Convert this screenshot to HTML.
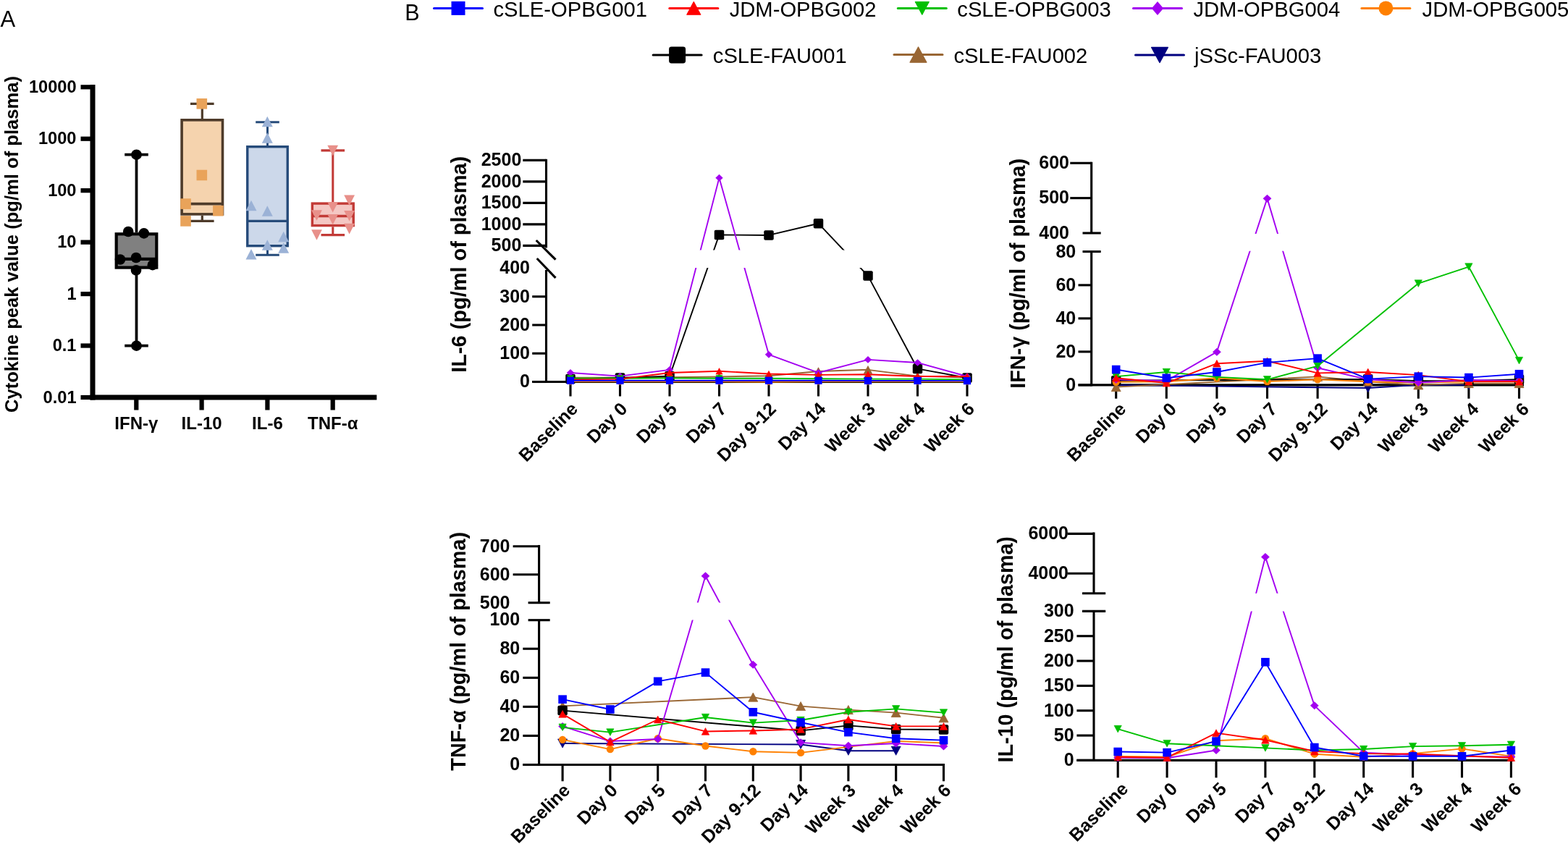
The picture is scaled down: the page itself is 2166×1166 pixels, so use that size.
<!DOCTYPE html>
<html><head><meta charset="utf-8"><title>Cytokine figure</title>
<style>
html,body{margin:0;padding:0;background:#fff;}
svg{display:block;}
text{font-family:"Liberation Sans", Arial, Helvetica, sans-serif;}
</style></head>
<body>
<svg width="2166" height="1166" viewBox="0 0 2166 1166">
<rect width="2166" height="1166" fill="#fff"/>
<text x="0.5" y="37" font-size="31" font-weight="normal" text-anchor="start" fill="#000" >A</text>
<line x1="128" y1="117" x2="128" y2="552.5" stroke="#000" stroke-width="7" stroke-linecap="butt" />
<line x1="124.5" y1="549" x2="520.4" y2="549" stroke="#000" stroke-width="7" stroke-linecap="butt" />
<line x1="111.5" y1="120.3" x2="128" y2="120.3" stroke="#000" stroke-width="6.2" stroke-linecap="butt" />
<text x="105.5" y="127.8" font-size="23.6" font-weight="bold" text-anchor="end" fill="#000" >10000</text>
<line x1="111.5" y1="191.75" x2="128" y2="191.75" stroke="#000" stroke-width="6.2" stroke-linecap="butt" />
<text x="105.5" y="199.25" font-size="23.6" font-weight="bold" text-anchor="end" fill="#000" >1000</text>
<line x1="111.5" y1="263.2" x2="128" y2="263.2" stroke="#000" stroke-width="6.2" stroke-linecap="butt" />
<text x="105.5" y="270.7" font-size="23.6" font-weight="bold" text-anchor="end" fill="#000" >100</text>
<line x1="111.5" y1="334.65" x2="128" y2="334.65" stroke="#000" stroke-width="6.2" stroke-linecap="butt" />
<text x="105.5" y="342.15" font-size="23.6" font-weight="bold" text-anchor="end" fill="#000" >10</text>
<line x1="111.5" y1="406.1" x2="128" y2="406.1" stroke="#000" stroke-width="6.2" stroke-linecap="butt" />
<text x="105.5" y="413.6" font-size="23.6" font-weight="bold" text-anchor="end" fill="#000" >1</text>
<line x1="111.5" y1="477.55" x2="128" y2="477.55" stroke="#000" stroke-width="6.2" stroke-linecap="butt" />
<text x="105.5" y="485.05" font-size="23.6" font-weight="bold" text-anchor="end" fill="#000" >0.1</text>
<line x1="111.5" y1="549" x2="128" y2="549" stroke="#000" stroke-width="6.2" stroke-linecap="butt" />
<text x="105.5" y="556.5" font-size="23.6" font-weight="bold" text-anchor="end" fill="#000" >0.01</text>
<line x1="188.3" y1="549" x2="188.3" y2="566.5" stroke="#000" stroke-width="6.2" stroke-linecap="butt" />
<line x1="278.6" y1="549" x2="278.6" y2="566.5" stroke="#000" stroke-width="6.2" stroke-linecap="butt" />
<line x1="369.4" y1="549" x2="369.4" y2="566.5" stroke="#000" stroke-width="6.2" stroke-linecap="butt" />
<line x1="459.7" y1="549" x2="459.7" y2="566.5" stroke="#000" stroke-width="6.2" stroke-linecap="butt" />
<text x="188.3" y="592.7" font-size="24" font-weight="bold" text-anchor="middle" fill="#000" >IFN-γ</text>
<text x="278.6" y="592.7" font-size="24" font-weight="bold" text-anchor="middle" fill="#000" >IL-10</text>
<text x="369.4" y="592.7" font-size="24" font-weight="bold" text-anchor="middle" fill="#000" >IL-6</text>
<text x="459.7" y="592.7" font-size="24" font-weight="bold" text-anchor="middle" fill="#000" >TNF-α</text>
<text x="0" y="0" font-size="25.6" font-weight="bold" text-anchor="middle" fill="#000" transform="translate(25.3,337.5) rotate(-90)" >Cytokine peak value (pg/ml of plasma)</text>
<line x1="188.5" y1="213.7" x2="188.5" y2="321.2" stroke="#000" stroke-width="3.78" stroke-linecap="butt" />
<line x1="188.5" y1="371.7" x2="188.5" y2="477.7" stroke="#000" stroke-width="3.78" stroke-linecap="butt" />
<line x1="172.2" y1="213.7" x2="204.8" y2="213.7" stroke="#000" stroke-width="3.78" stroke-linecap="butt" />
<line x1="172.2" y1="477.7" x2="204.8" y2="477.7" stroke="#000" stroke-width="3.78" stroke-linecap="butt" />
<rect x="160.7" y="323.3" width="55.6" height="46.3" fill="#808080" stroke="#000" stroke-width="4.2"/>
<line x1="160.7" y1="357.8" x2="216.3" y2="357.8" stroke="#000" stroke-width="4.2" stroke-linecap="butt" />
<circle cx="177.2" cy="320" r="7.3" fill="#000"/>
<circle cx="198.8" cy="322.4" r="7.3" fill="#000"/>
<circle cx="166" cy="358.5" r="7.3" fill="#000"/>
<circle cx="188" cy="356" r="7.3" fill="#000"/>
<circle cx="210.8" cy="366.2" r="7.3" fill="#000"/>
<circle cx="188" cy="373.4" r="7.3" fill="#000"/>
<circle cx="188.5" cy="213.7" r="7.3" fill="#000"/>
<circle cx="188.5" cy="477.7" r="7.3" fill="#000"/>
<line x1="279.3" y1="143.3" x2="279.3" y2="164" stroke="#4E3B2A" stroke-width="3.24" stroke-linecap="butt" />
<line x1="279.3" y1="297.7" x2="279.3" y2="305.4" stroke="#4E3B2A" stroke-width="3.24" stroke-linecap="butt" />
<line x1="263" y1="143.3" x2="295.6" y2="143.3" stroke="#4E3B2A" stroke-width="3.24" stroke-linecap="butt" />
<line x1="263" y1="305.4" x2="295.6" y2="305.4" stroke="#4E3B2A" stroke-width="3.24" stroke-linecap="butt" />
<rect x="251.1" y="165.8" width="56.4" height="130.1" fill="#F5D3AE" stroke="#4E3B2A" stroke-width="3.6"/>
<line x1="251.1" y1="281.6" x2="307.5" y2="281.6" stroke="#4E3B2A" stroke-width="3.6" stroke-linecap="butt" />
<rect x="271.5" y="136" width="14.6" height="14.6" fill="#E9A35A"/>
<rect x="271.5" y="234.7" width="14.6" height="14.6" fill="#E9A35A"/>
<rect x="249.2" y="274.3" width="14.6" height="14.6" fill="#E9A35A"/>
<rect x="294.1" y="283.9" width="14.6" height="14.6" fill="#E9A35A"/>
<rect x="249.2" y="298.1" width="14.6" height="14.6" fill="#E9A35A"/>
<line x1="369.5" y1="168.8" x2="369.5" y2="201" stroke="#264B7A" stroke-width="3.06" stroke-linecap="butt" />
<line x1="369.5" y1="341.4" x2="369.5" y2="352.2" stroke="#264B7A" stroke-width="3.06" stroke-linecap="butt" />
<line x1="353.2" y1="168.8" x2="385.8" y2="168.8" stroke="#264B7A" stroke-width="3.06" stroke-linecap="butt" />
<line x1="353.2" y1="352.2" x2="385.8" y2="352.2" stroke="#264B7A" stroke-width="3.06" stroke-linecap="butt" />
<rect x="341.75" y="202.7" width="55.5" height="137" fill="#CCD8EA" stroke="#264B7A" stroke-width="3.4"/>
<line x1="341.75" y1="305.4" x2="397.25" y2="305.4" stroke="#264B7A" stroke-width="3.4" stroke-linecap="butt" />
<polygon points="369.3,160.77 376.8,175.32 361.8,175.32" fill="#9BB2D6" />
<polygon points="369.3,183.27 376.8,197.82 361.8,197.82" fill="#9BB2D6" />
<polygon points="347,276.77 354.5,291.32 339.5,291.32" fill="#9BB2D6" />
<polygon points="369.3,284.27 376.8,298.82 361.8,298.82" fill="#9BB2D6" />
<polygon points="391.7,319.77 399.2,334.32 384.2,334.32" fill="#9BB2D6" />
<polygon points="369.3,331.27 376.8,345.82 361.8,345.82" fill="#9BB2D6" />
<polygon points="391.7,335.27 399.2,349.82 384.2,349.82" fill="#9BB2D6" />
<polygon points="347,343.97 354.5,358.52 339.5,358.52" fill="#9BB2D6" />
<line x1="459.8" y1="207.9" x2="459.8" y2="279.4" stroke="#C23A36" stroke-width="3.06" stroke-linecap="butt" />
<line x1="459.8" y1="313.3" x2="459.8" y2="324.6" stroke="#C23A36" stroke-width="3.06" stroke-linecap="butt" />
<line x1="443.5" y1="207.9" x2="476.1" y2="207.9" stroke="#C23A36" stroke-width="3.06" stroke-linecap="butt" />
<line x1="443.5" y1="324.6" x2="476.1" y2="324.6" stroke="#C23A36" stroke-width="3.06" stroke-linecap="butt" />
<rect x="431.35" y="281.1" width="56.9" height="30.5" fill="#F4C7C3" stroke="#C23A36" stroke-width="3.4"/>
<line x1="431.35" y1="298.5" x2="488.25" y2="298.5" stroke="#C23A36" stroke-width="3.4" stroke-linecap="butt" />
<polygon points="452.3,200.7 467.1,200.7 459.7,215.3" fill="#E8908A"/>
<polygon points="475.2,269.5 490,269.5 482.6,284.1" fill="#E8908A"/>
<polygon points="452.3,279 467.1,279 459.7,293.6" fill="#E8908A"/>
<polygon points="430.1,290.2 444.9,290.2 437.5,304.8" fill="#E8908A"/>
<polygon points="475.2,291 490,291 482.6,305.6" fill="#E8908A"/>
<polygon points="452.3,296 467.1,296 459.7,310.6" fill="#E8908A"/>
<polygon points="475.2,308.8 490,308.8 482.6,323.4" fill="#E8908A"/>
<polygon points="430.1,317.2 444.9,317.2 437.5,331.8" fill="#E8908A"/>
<text x="559.3" y="27.9" font-size="30.5" font-weight="normal" text-anchor="start" fill="#000" >B</text>
<line x1="599.5" y1="11.4" x2="666.5" y2="11.4" stroke="#0000FF" stroke-width="3" stroke-linecap="round" />
<rect x="623.5" y="1.9" width="19" height="19" fill="#0000FF"/>
<text x="681.5" y="23.2" font-size="29.2" font-weight="normal" text-anchor="start" fill="#000" >cSLE-OPBG001</text>
<line x1="924.8" y1="11.4" x2="991.8" y2="11.4" stroke="#FF0000" stroke-width="3" stroke-linecap="round" />
<polygon points="958.3,2.56 967.8,20.23 948.8,20.23" fill="#FF0000" stroke="#FF0000" stroke-width="1.14" stroke-linejoin="round"/>
<text x="1007.7" y="23.2" font-size="29.2" font-weight="normal" text-anchor="start" fill="#000" >JDM-OPBG002</text>
<line x1="1240.3" y1="11.4" x2="1307.3" y2="11.4" stroke="#00C000" stroke-width="3" stroke-linecap="round" />
<polygon points="1273.8,20.23 1283.3,2.56 1264.3,2.56" fill="#00C000" stroke="#00C000" stroke-width="1.14" stroke-linejoin="round"/>
<text x="1322.3" y="23.2" font-size="29.2" font-weight="normal" text-anchor="start" fill="#000" >cSLE-OPBG003</text>
<line x1="1565.5" y1="11.4" x2="1632.5" y2="11.4" stroke="#A300F0" stroke-width="3" stroke-linecap="round" />
<polygon points="1599,1.9 1607.17,11.4 1599,20.9 1590.83,11.4" fill="#A300F0"/>
<text x="1648.4" y="23.2" font-size="29.2" font-weight="normal" text-anchor="start" fill="#000" >JDM-OPBG004</text>
<line x1="1880.9" y1="11.4" x2="1947.9" y2="11.4" stroke="#FF8000" stroke-width="3" stroke-linecap="round" />
<circle cx="1914.4" cy="11.4" r="10" fill="#FF8000"/>
<text x="1964.6" y="23.2" font-size="29.2" font-weight="normal" text-anchor="start" fill="#000" >JDM-OPBG005</text>
<line x1="902.1" y1="75.9" x2="969.1" y2="75.9" stroke="#000000" stroke-width="3" stroke-linecap="round" />
<rect x="924.1" y="64.4" width="23" height="23" rx="3.45" fill="#000000"/>
<text x="984.8" y="86.9" font-size="29.2" font-weight="normal" text-anchor="start" fill="#000" >cSLE-FAU001</text>
<line x1="1235" y1="75.6" x2="1302" y2="75.6" stroke="#996633" stroke-width="3" stroke-linecap="round" />
<polygon points="1268.5,65.04 1279.85,86.16 1257.15,86.16" fill="#996633" stroke="#996633" stroke-width="1.36" stroke-linejoin="round"/>
<text x="1317.4" y="86.9" font-size="29.2" font-weight="normal" text-anchor="start" fill="#000" >cSLE-FAU002</text>
<line x1="1568.5" y1="75.9" x2="1635.5" y2="75.9" stroke="#000080" stroke-width="3" stroke-linecap="round" />
<polygon points="1602,86.46 1613.35,65.34 1590.65,65.34" fill="#000080" stroke="#000080" stroke-width="1.36" stroke-linejoin="round"/>
<text x="1650.1" y="86.9" font-size="29.2" font-weight="normal" text-anchor="start" fill="#000" >jSSc-FAU003</text>
<line x1="754.5" y1="373" x2="754.5" y2="529.05" stroke="#000" stroke-width="3.1" stroke-linecap="butt" />
<line x1="754.5" y1="219.85" x2="754.5" y2="342.4" stroke="#000" stroke-width="3.1" stroke-linecap="butt" />
<line x1="735.2" y1="527.5" x2="1340.6" y2="527.5" stroke="#000" stroke-width="3.1" stroke-linecap="butt" />
<line x1="788" y1="527.5" x2="788" y2="547.5" stroke="#000" stroke-width="3.1" stroke-linecap="butt" />
<line x1="856.5" y1="527.5" x2="856.5" y2="547.5" stroke="#000" stroke-width="3.1" stroke-linecap="butt" />
<line x1="925" y1="527.5" x2="925" y2="547.5" stroke="#000" stroke-width="3.1" stroke-linecap="butt" />
<line x1="993.5" y1="527.5" x2="993.5" y2="547.5" stroke="#000" stroke-width="3.1" stroke-linecap="butt" />
<line x1="1062" y1="527.5" x2="1062" y2="547.5" stroke="#000" stroke-width="3.1" stroke-linecap="butt" />
<line x1="1130.5" y1="527.5" x2="1130.5" y2="547.5" stroke="#000" stroke-width="3.1" stroke-linecap="butt" />
<line x1="1199" y1="527.5" x2="1199" y2="547.5" stroke="#000" stroke-width="3.1" stroke-linecap="butt" />
<line x1="1267.5" y1="527.5" x2="1267.5" y2="547.5" stroke="#000" stroke-width="3.1" stroke-linecap="butt" />
<line x1="1336" y1="527.5" x2="1336" y2="547.5" stroke="#000" stroke-width="3.1" stroke-linecap="butt" />
<line x1="722.3" y1="221.4" x2="754.5" y2="221.4" stroke="#000" stroke-width="3.1" stroke-linecap="butt" />
<text x="720.3" y="229.2" font-size="25" font-weight="bold" text-anchor="end" fill="#000" >2500</text>
<line x1="722.3" y1="250.9" x2="754.5" y2="250.9" stroke="#000" stroke-width="3.1" stroke-linecap="butt" />
<text x="720.3" y="258.7" font-size="25" font-weight="bold" text-anchor="end" fill="#000" >2000</text>
<line x1="722.3" y1="280.4" x2="754.5" y2="280.4" stroke="#000" stroke-width="3.1" stroke-linecap="butt" />
<text x="720.3" y="288.2" font-size="25" font-weight="bold" text-anchor="end" fill="#000" >1500</text>
<line x1="722.3" y1="309.9" x2="754.5" y2="309.9" stroke="#000" stroke-width="3.1" stroke-linecap="butt" />
<text x="720.3" y="317.7" font-size="25" font-weight="bold" text-anchor="end" fill="#000" >1000</text>
<line x1="722.3" y1="339.4" x2="754.5" y2="339.4" stroke="#000" stroke-width="3.1" stroke-linecap="butt" />
<text x="720.3" y="347.2" font-size="25" font-weight="bold" text-anchor="end" fill="#000" >500</text>
<text x="732" y="378.3" font-size="25" font-weight="bold" text-anchor="end" fill="#000" >400</text>
<line x1="735.2" y1="409.75" x2="754.5" y2="409.75" stroke="#000" stroke-width="3.1" stroke-linecap="butt" />
<text x="732" y="417.55" font-size="25" font-weight="bold" text-anchor="end" fill="#000" >300</text>
<line x1="735.2" y1="449" x2="754.5" y2="449" stroke="#000" stroke-width="3.1" stroke-linecap="butt" />
<text x="732" y="456.8" font-size="25" font-weight="bold" text-anchor="end" fill="#000" >200</text>
<line x1="735.2" y1="488.25" x2="754.5" y2="488.25" stroke="#000" stroke-width="3.1" stroke-linecap="butt" />
<text x="732" y="496.05" font-size="25" font-weight="bold" text-anchor="end" fill="#000" >100</text>
<line x1="735.2" y1="527.5" x2="754.5" y2="527.5" stroke="#000" stroke-width="3.1" stroke-linecap="butt" />
<text x="732" y="535.3" font-size="25" font-weight="bold" text-anchor="end" fill="#000" >0</text>
<line x1="740.7" y1="332" x2="767.5" y2="358.7" stroke="#000" stroke-width="3.1" stroke-linecap="butt" />
<line x1="741.7" y1="357" x2="767.5" y2="383.9" stroke="#000" stroke-width="3.1" stroke-linecap="butt" />
<text x="0" y="0" font-size="28.95" font-weight="bold" text-anchor="middle" fill="#000" transform="translate(643.9,365.3) rotate(-90)" >IL-6 (pg/ml of plasma)</text>
<text x="0" y="0" font-size="25" font-weight="bold" text-anchor="end" fill="#000" transform="translate(799.7,566.5) rotate(-45)" >Baseline</text>
<text x="0" y="0" font-size="25" font-weight="bold" text-anchor="end" fill="#000" transform="translate(868.2,566.5) rotate(-45)" >Day 0</text>
<text x="0" y="0" font-size="25" font-weight="bold" text-anchor="end" fill="#000" transform="translate(936.7,566.5) rotate(-45)" >Day 5</text>
<text x="0" y="0" font-size="25" font-weight="bold" text-anchor="end" fill="#000" transform="translate(1005.2,566.5) rotate(-45)" >Day 7</text>
<text x="0" y="0" font-size="25" font-weight="bold" text-anchor="end" fill="#000" transform="translate(1073.7,566.5) rotate(-45)" >Day 9-12</text>
<text x="0" y="0" font-size="25" font-weight="bold" text-anchor="end" fill="#000" transform="translate(1142.2,566.5) rotate(-45)" >Day 14</text>
<text x="0" y="0" font-size="25" font-weight="bold" text-anchor="end" fill="#000" transform="translate(1210.7,566.5) rotate(-45)" >Week 3</text>
<text x="0" y="0" font-size="25" font-weight="bold" text-anchor="end" fill="#000" transform="translate(1279.2,566.5) rotate(-45)" >Week 4</text>
<text x="0" y="0" font-size="25" font-weight="bold" text-anchor="end" fill="#000" transform="translate(1347.7,566.5) rotate(-45)" >Week 6</text>
<clipPath id="c1u"><rect x="0" y="0" width="2166" height="345.5"/></clipPath>
<clipPath id="c1l"><rect x="0" y="370" width="2166" height="796"/></clipPath>
<path d="M788,527.11 L856.5,527.11 L925,527.11 L993.5,527.11 L1062,527.11 L1130.5,527.11 L1199,527.11 L1267.5,527.11 L1336,527.11" fill="none" stroke="#000080" stroke-width="1.9" stroke-linejoin="round" clip-path="url(#c1u)"/>
<path d="M788,527.11 L856.5,527.11 L925,527.11 L993.5,527.11 L1062,527.11 L1130.5,527.11 L1199,527.11 L1267.5,527.11 L1336,527.11" fill="none" stroke="#000080" stroke-width="1.9" stroke-linejoin="round" clip-path="url(#c1l)"/>
<polygon points="788,532.43 793.72,521.79 782.28,521.79" fill="#000080" stroke="#000080" stroke-width="0.69" stroke-linejoin="round"/>
<polygon points="856.5,532.43 862.22,521.79 850.78,521.79" fill="#000080" stroke="#000080" stroke-width="0.69" stroke-linejoin="round"/>
<polygon points="925,532.43 930.72,521.79 919.28,521.79" fill="#000080" stroke="#000080" stroke-width="0.69" stroke-linejoin="round"/>
<polygon points="993.5,532.43 999.22,521.79 987.78,521.79" fill="#000080" stroke="#000080" stroke-width="0.69" stroke-linejoin="round"/>
<polygon points="1062,532.43 1067.72,521.79 1056.28,521.79" fill="#000080" stroke="#000080" stroke-width="0.69" stroke-linejoin="round"/>
<polygon points="1130.5,532.43 1136.22,521.79 1124.78,521.79" fill="#000080" stroke="#000080" stroke-width="0.69" stroke-linejoin="round"/>
<polygon points="1199,532.43 1204.72,521.79 1193.28,521.79" fill="#000080" stroke="#000080" stroke-width="0.69" stroke-linejoin="round"/>
<polygon points="1267.5,532.43 1273.22,521.79 1261.78,521.79" fill="#000080" stroke="#000080" stroke-width="0.69" stroke-linejoin="round"/>
<polygon points="1336,532.43 1341.72,521.79 1330.28,521.79" fill="#000080" stroke="#000080" stroke-width="0.69" stroke-linejoin="round"/>
<path d="M788,521.61 L856.5,521.61 L925,521.22 L993.5,520.43 L1062,519.26 L1130.5,512.98 L1199,510.82 L1267.5,519.65 L1336,521.61" fill="none" stroke="#996633" stroke-width="1.9" stroke-linejoin="round" clip-path="url(#c1u)"/>
<path d="M788,521.61 L856.5,521.61 L925,521.22 L993.5,520.43 L1062,519.26 L1130.5,512.98 L1199,510.82 L1267.5,519.65 L1336,521.61" fill="none" stroke="#996633" stroke-width="1.9" stroke-linejoin="round" clip-path="url(#c1l)"/>
<polygon points="788,516.29 793.72,526.93 782.28,526.93" fill="#996633" stroke="#996633" stroke-width="0.69" stroke-linejoin="round"/>
<polygon points="856.5,516.29 862.22,526.93 850.78,526.93" fill="#996633" stroke="#996633" stroke-width="0.69" stroke-linejoin="round"/>
<polygon points="925,515.9 930.72,526.54 919.28,526.54" fill="#996633" stroke="#996633" stroke-width="0.69" stroke-linejoin="round"/>
<polygon points="993.5,515.12 999.22,525.75 987.78,525.75" fill="#996633" stroke="#996633" stroke-width="0.69" stroke-linejoin="round"/>
<polygon points="1062,513.94 1067.72,524.58 1056.28,524.58" fill="#996633" stroke="#996633" stroke-width="0.69" stroke-linejoin="round"/>
<polygon points="1130.5,507.66 1136.22,518.3 1124.78,518.3" fill="#996633" stroke="#996633" stroke-width="0.69" stroke-linejoin="round"/>
<polygon points="1199,505.5 1204.72,516.14 1193.28,516.14" fill="#996633" stroke="#996633" stroke-width="0.69" stroke-linejoin="round"/>
<polygon points="1267.5,514.33 1273.22,524.97 1261.78,524.97" fill="#996633" stroke="#996633" stroke-width="0.69" stroke-linejoin="round"/>
<polygon points="1336,516.29 1341.72,526.93 1330.28,526.93" fill="#996633" stroke="#996633" stroke-width="0.69" stroke-linejoin="round"/>
<path d="M788,523.58 L856.5,522 L925,519.65 L993.5,324.41 L1062,324.94 L1130.5,308.72 L1199,381.1 L1267.5,509.44 L1336,522" fill="none" stroke="#000000" stroke-width="1.9" stroke-linejoin="round" clip-path="url(#c1u)"/>
<path d="M788,523.58 L856.5,522 L925,519.65 L993.5,324.41 L1062,324.94 L1130.5,308.72 L1199,381.1 L1267.5,509.44 L1336,522" fill="none" stroke="#000000" stroke-width="1.9" stroke-linejoin="round" clip-path="url(#c1l)"/>
<rect x="781.25" y="516.83" width="13.5" height="13.5" rx="2.02" fill="#000000"/>
<rect x="849.75" y="515.25" width="13.5" height="13.5" rx="2.02" fill="#000000"/>
<rect x="918.25" y="512.9" width="13.5" height="13.5" rx="2.02" fill="#000000"/>
<rect x="986.75" y="317.66" width="13.5" height="13.5" rx="2.02" fill="#000000"/>
<rect x="1055.25" y="318.19" width="13.5" height="13.5" rx="2.02" fill="#000000"/>
<rect x="1123.75" y="301.97" width="13.5" height="13.5" rx="2.02" fill="#000000"/>
<rect x="1192.25" y="374.35" width="13.5" height="13.5" rx="2.02" fill="#000000"/>
<rect x="1260.75" y="502.69" width="13.5" height="13.5" rx="2.02" fill="#000000"/>
<rect x="1329.25" y="515.25" width="13.5" height="13.5" rx="2.02" fill="#000000"/>
<path d="M788,527.11 L856.5,527.11 L925,527.11 L993.5,527.11 L1062,527.5 L1130.5,527.11 L1199,527.11 L1267.5,527.11 L1336,527.11" fill="none" stroke="#FF8000" stroke-width="1.9" stroke-linejoin="round" clip-path="url(#c1u)"/>
<path d="M788,527.11 L856.5,527.11 L925,527.11 L993.5,527.11 L1062,527.5 L1130.5,527.11 L1199,527.11 L1267.5,527.11 L1336,527.11" fill="none" stroke="#FF8000" stroke-width="1.9" stroke-linejoin="round" clip-path="url(#c1l)"/>
<circle cx="788" cy="527.11" r="4.58" fill="#FF8000"/>
<circle cx="856.5" cy="527.11" r="4.58" fill="#FF8000"/>
<circle cx="925" cy="527.11" r="4.58" fill="#FF8000"/>
<circle cx="993.5" cy="527.11" r="4.58" fill="#FF8000"/>
<circle cx="1062" cy="527.5" r="4.58" fill="#FF8000"/>
<circle cx="1130.5" cy="527.11" r="4.58" fill="#FF8000"/>
<circle cx="1199" cy="527.11" r="4.58" fill="#FF8000"/>
<circle cx="1267.5" cy="527.11" r="4.58" fill="#FF8000"/>
<circle cx="1336" cy="527.11" r="4.58" fill="#FF8000"/>
<path d="M788,514.94 L856.5,519.65 L925,510.82 L993.5,245.71 L1062,489.82 L1130.5,514.94 L1199,496.88 L1267.5,501.01 L1336,520.04" fill="none" stroke="#A300F0" stroke-width="1.9" stroke-linejoin="round" clip-path="url(#c1u)"/>
<path d="M788,514.94 L856.5,519.65 L925,510.82 L993.5,245.71 L1062,489.82 L1130.5,514.94 L1199,496.88 L1267.5,501.01 L1336,520.04" fill="none" stroke="#A300F0" stroke-width="1.9" stroke-linejoin="round" clip-path="url(#c1l)"/>
<polygon points="788,510.1 793.18,514.94 788,519.78 782.82,514.94" fill="#A300F0"/>
<polygon points="856.5,514.81 861.68,519.65 856.5,524.49 851.32,519.65" fill="#A300F0"/>
<polygon points="925,505.98 930.18,510.82 925,515.66 919.82,510.82" fill="#A300F0"/>
<polygon points="993.5,240.87 998.68,245.71 993.5,250.55 988.32,245.71" fill="#A300F0"/>
<polygon points="1062,484.98 1067.18,489.82 1062,494.66 1056.82,489.82" fill="#A300F0"/>
<polygon points="1130.5,510.1 1135.68,514.94 1130.5,519.78 1125.32,514.94" fill="#A300F0"/>
<polygon points="1199,492.05 1204.18,496.88 1199,501.72 1193.82,496.88" fill="#A300F0"/>
<polygon points="1267.5,496.17 1272.68,501.01 1267.5,505.85 1262.32,501.01" fill="#A300F0"/>
<polygon points="1336,515.2 1341.18,520.04 1336,524.88 1330.82,520.04" fill="#A300F0"/>
<path d="M788,522.79 L856.5,522.79 L925,522.4 L993.5,522.79 L1062,522.79 L1130.5,523.18 L1199,523.58 L1267.5,523.58 L1336,524.36" fill="none" stroke="#00C000" stroke-width="1.9" stroke-linejoin="round" clip-path="url(#c1u)"/>
<path d="M788,522.79 L856.5,522.79 L925,522.4 L993.5,522.79 L1062,522.79 L1130.5,523.18 L1199,523.58 L1267.5,523.58 L1336,524.36" fill="none" stroke="#00C000" stroke-width="1.9" stroke-linejoin="round" clip-path="url(#c1l)"/>
<polygon points="788,527 792.53,518.58 783.47,518.58" fill="#00C000" stroke="#00C000" stroke-width="0.54" stroke-linejoin="round"/>
<polygon points="856.5,527 861.03,518.58 851.97,518.58" fill="#00C000" stroke="#00C000" stroke-width="0.54" stroke-linejoin="round"/>
<polygon points="925,526.61 929.53,518.18 920.47,518.18" fill="#00C000" stroke="#00C000" stroke-width="0.54" stroke-linejoin="round"/>
<polygon points="993.5,527 998.03,518.58 988.97,518.58" fill="#00C000" stroke="#00C000" stroke-width="0.54" stroke-linejoin="round"/>
<polygon points="1062,527 1066.53,518.58 1057.47,518.58" fill="#00C000" stroke="#00C000" stroke-width="0.54" stroke-linejoin="round"/>
<polygon points="1130.5,527.4 1135.03,518.97 1125.97,518.97" fill="#00C000" stroke="#00C000" stroke-width="0.54" stroke-linejoin="round"/>
<polygon points="1199,527.79 1203.53,519.36 1194.47,519.36" fill="#00C000" stroke="#00C000" stroke-width="0.54" stroke-linejoin="round"/>
<polygon points="1267.5,527.79 1272.03,519.36 1262.97,519.36" fill="#00C000" stroke="#00C000" stroke-width="0.54" stroke-linejoin="round"/>
<polygon points="1336,528.57 1340.53,520.15 1331.47,520.15" fill="#00C000" stroke="#00C000" stroke-width="0.54" stroke-linejoin="round"/>
<path d="M788,524.36 L856.5,523.58 L925,514.94 L993.5,512.78 L1062,516.51 L1130.5,517.88 L1199,517.29 L1267.5,520.04 L1336,520.04" fill="none" stroke="#FF0000" stroke-width="1.9" stroke-linejoin="round" clip-path="url(#c1u)"/>
<path d="M788,524.36 L856.5,523.58 L925,514.94 L993.5,512.78 L1062,516.51 L1130.5,517.88 L1199,517.29 L1267.5,520.04 L1336,520.04" fill="none" stroke="#FF0000" stroke-width="1.9" stroke-linejoin="round" clip-path="url(#c1l)"/>
<polygon points="788,520.06 792.62,528.66 783.38,528.66" fill="#FF0000" stroke="#FF0000" stroke-width="0.55" stroke-linejoin="round"/>
<polygon points="856.5,519.28 861.12,527.87 851.88,527.87" fill="#FF0000" stroke="#FF0000" stroke-width="0.55" stroke-linejoin="round"/>
<polygon points="925,510.64 929.62,519.24 920.38,519.24" fill="#FF0000" stroke="#FF0000" stroke-width="0.55" stroke-linejoin="round"/>
<polygon points="993.5,508.48 998.12,517.08 988.88,517.08" fill="#FF0000" stroke="#FF0000" stroke-width="0.55" stroke-linejoin="round"/>
<polygon points="1062,512.21 1066.62,520.81 1057.38,520.81" fill="#FF0000" stroke="#FF0000" stroke-width="0.55" stroke-linejoin="round"/>
<polygon points="1130.5,513.59 1135.12,522.18 1125.88,522.18" fill="#FF0000" stroke="#FF0000" stroke-width="0.55" stroke-linejoin="round"/>
<polygon points="1199,513 1203.62,521.59 1194.38,521.59" fill="#FF0000" stroke="#FF0000" stroke-width="0.55" stroke-linejoin="round"/>
<polygon points="1267.5,515.75 1272.12,524.34 1262.88,524.34" fill="#FF0000" stroke="#FF0000" stroke-width="0.55" stroke-linejoin="round"/>
<polygon points="1336,515.75 1340.62,524.34 1331.38,524.34" fill="#FF0000" stroke="#FF0000" stroke-width="0.55" stroke-linejoin="round"/>
<path d="M788,525.73 L856.5,525.73 L925,525.73 L993.5,525.73 L1062,525.73 L1130.5,525.73 L1199,525.93 L1267.5,525.93 L1336,526.13" fill="none" stroke="#0000FF" stroke-width="1.9" stroke-linejoin="round" clip-path="url(#c1u)"/>
<path d="M788,525.73 L856.5,525.73 L925,525.73 L993.5,525.73 L1062,525.73 L1130.5,525.73 L1199,525.93 L1267.5,525.93 L1336,526.13" fill="none" stroke="#0000FF" stroke-width="1.9" stroke-linejoin="round" clip-path="url(#c1l)"/>
<rect x="782.9" y="520.63" width="10.21" height="10.21" fill="#0000FF"/>
<rect x="851.4" y="520.63" width="10.21" height="10.21" fill="#0000FF"/>
<rect x="919.9" y="520.63" width="10.21" height="10.21" fill="#0000FF"/>
<rect x="988.4" y="520.63" width="10.21" height="10.21" fill="#0000FF"/>
<rect x="1056.9" y="520.63" width="10.21" height="10.21" fill="#0000FF"/>
<rect x="1125.4" y="520.63" width="10.21" height="10.21" fill="#0000FF"/>
<rect x="1193.9" y="520.83" width="10.21" height="10.21" fill="#0000FF"/>
<rect x="1262.4" y="520.83" width="10.21" height="10.21" fill="#0000FF"/>
<rect x="1330.9" y="521.02" width="10.21" height="10.21" fill="#0000FF"/>
<line x1="1507.7" y1="347.6" x2="1507.7" y2="533.45" stroke="#000" stroke-width="3.1" stroke-linecap="butt" />
<line x1="1507.7" y1="223.75" x2="1507.7" y2="322" stroke="#000" stroke-width="3.1" stroke-linecap="butt" />
<line x1="1489.5" y1="531.9" x2="2105" y2="531.9" stroke="#000" stroke-width="3.1" stroke-linecap="butt" />
<line x1="1541.7" y1="531.9" x2="1541.7" y2="550.7" stroke="#000" stroke-width="3.1" stroke-linecap="butt" />
<line x1="1611.3" y1="531.9" x2="1611.3" y2="550.7" stroke="#000" stroke-width="3.1" stroke-linecap="butt" />
<line x1="1680.9" y1="531.9" x2="1680.9" y2="550.7" stroke="#000" stroke-width="3.1" stroke-linecap="butt" />
<line x1="1750.5" y1="531.9" x2="1750.5" y2="550.7" stroke="#000" stroke-width="3.1" stroke-linecap="butt" />
<line x1="1820.1" y1="531.9" x2="1820.1" y2="550.7" stroke="#000" stroke-width="3.1" stroke-linecap="butt" />
<line x1="1889.7" y1="531.9" x2="1889.7" y2="550.7" stroke="#000" stroke-width="3.1" stroke-linecap="butt" />
<line x1="1959.3" y1="531.9" x2="1959.3" y2="550.7" stroke="#000" stroke-width="3.1" stroke-linecap="butt" />
<line x1="2028.9" y1="531.9" x2="2028.9" y2="550.7" stroke="#000" stroke-width="3.1" stroke-linecap="butt" />
<line x1="2098.5" y1="531.9" x2="2098.5" y2="550.7" stroke="#000" stroke-width="3.1" stroke-linecap="butt" />
<line x1="1478.3" y1="225.3" x2="1507.7" y2="225.3" stroke="#000" stroke-width="3.1" stroke-linecap="butt" />
<text x="1477" y="233.1" font-size="25" font-weight="bold" text-anchor="end" fill="#000" >600</text>
<line x1="1478.3" y1="273.65" x2="1507.7" y2="273.65" stroke="#000" stroke-width="3.1" stroke-linecap="butt" />
<text x="1477" y="281.45" font-size="25" font-weight="bold" text-anchor="end" fill="#000" >500</text>
<text x="1477" y="329.8" font-size="25" font-weight="bold" text-anchor="end" fill="#000" >400</text>
<text x="1486.2" y="355.7" font-size="25" font-weight="bold" text-anchor="end" fill="#000" >80</text>
<line x1="1489.5" y1="393.9" x2="1507.7" y2="393.9" stroke="#000" stroke-width="3.1" stroke-linecap="butt" />
<text x="1486.2" y="401.7" font-size="25" font-weight="bold" text-anchor="end" fill="#000" >60</text>
<line x1="1489.5" y1="439.9" x2="1507.7" y2="439.9" stroke="#000" stroke-width="3.1" stroke-linecap="butt" />
<text x="1486.2" y="447.7" font-size="25" font-weight="bold" text-anchor="end" fill="#000" >40</text>
<line x1="1489.5" y1="485.9" x2="1507.7" y2="485.9" stroke="#000" stroke-width="3.1" stroke-linecap="butt" />
<text x="1486.2" y="493.7" font-size="25" font-weight="bold" text-anchor="end" fill="#000" >20</text>
<line x1="1489.5" y1="531.9" x2="1507.7" y2="531.9" stroke="#000" stroke-width="3.1" stroke-linecap="butt" />
<text x="1486.2" y="539.7" font-size="25" font-weight="bold" text-anchor="end" fill="#000" >0</text>
<line x1="1495.5" y1="322" x2="1520.7" y2="322" stroke="#000" stroke-width="3.1" stroke-linecap="butt" />
<line x1="1495.5" y1="347.6" x2="1520.7" y2="347.6" stroke="#000" stroke-width="3.1" stroke-linecap="butt" />
<text x="0" y="0" font-size="28.75" font-weight="bold" text-anchor="middle" fill="#000" transform="translate(1415.5,377.8) rotate(-90)" >IFN-γ (pg/ml of plasma)</text>
<text x="0" y="0" font-size="25" font-weight="bold" text-anchor="end" fill="#000" transform="translate(1556.9,566.6) rotate(-45)" >Baseline</text>
<text x="0" y="0" font-size="25" font-weight="bold" text-anchor="end" fill="#000" transform="translate(1626.5,566.6) rotate(-45)" >Day 0</text>
<text x="0" y="0" font-size="25" font-weight="bold" text-anchor="end" fill="#000" transform="translate(1696.1,566.6) rotate(-45)" >Day 5</text>
<text x="0" y="0" font-size="25" font-weight="bold" text-anchor="end" fill="#000" transform="translate(1765.7,566.6) rotate(-45)" >Day 7</text>
<text x="0" y="0" font-size="25" font-weight="bold" text-anchor="end" fill="#000" transform="translate(1835.3,566.6) rotate(-45)" >Day 9-12</text>
<text x="0" y="0" font-size="25" font-weight="bold" text-anchor="end" fill="#000" transform="translate(1904.9,566.6) rotate(-45)" >Day 14</text>
<text x="0" y="0" font-size="25" font-weight="bold" text-anchor="end" fill="#000" transform="translate(1974.5,566.6) rotate(-45)" >Week 3</text>
<text x="0" y="0" font-size="25" font-weight="bold" text-anchor="end" fill="#000" transform="translate(2044.1,566.6) rotate(-45)" >Week 4</text>
<text x="0" y="0" font-size="25" font-weight="bold" text-anchor="end" fill="#000" transform="translate(2113.7,566.6) rotate(-45)" >Week 6</text>
<clipPath id="c2u"><rect x="0" y="0" width="2166" height="322.9"/></clipPath>
<clipPath id="c2l"><rect x="0" y="346.7" width="2166" height="819.3"/></clipPath>
<path d="M1541.7,531.9 L1889.7,536.04 L1959.3,531.9 L2028.9,531.9" fill="none" stroke="#000080" stroke-width="1.9" stroke-linejoin="round" clip-path="url(#c2u)"/>
<path d="M1541.7,531.9 L1889.7,536.04 L1959.3,531.9 L2028.9,531.9" fill="none" stroke="#000080" stroke-width="1.9" stroke-linejoin="round" clip-path="url(#c2l)"/>
<polygon points="1541.7,537.94 1548.2,525.86 1535.2,525.86" fill="#000080" stroke="#000080" stroke-width="0.78" stroke-linejoin="round"/>
<polygon points="1889.7,542.08 1896.2,530 1883.2,530" fill="#000080" stroke="#000080" stroke-width="0.78" stroke-linejoin="round"/>
<polygon points="1959.3,537.94 1965.8,525.86 1952.8,525.86" fill="#000080" stroke="#000080" stroke-width="0.78" stroke-linejoin="round"/>
<polygon points="2028.9,537.94 2035.4,525.86 2022.4,525.86" fill="#000080" stroke="#000080" stroke-width="0.78" stroke-linejoin="round"/>
<path d="M1541.7,534.66 L1820.1,520.4 L1889.7,527.3 L1959.3,531.9 L2028.9,529.6 L2098.5,529.6" fill="none" stroke="#996633" stroke-width="1.9" stroke-linejoin="round" clip-path="url(#c2u)"/>
<path d="M1541.7,534.66 L1820.1,520.4 L1889.7,527.3 L1959.3,531.9 L2028.9,529.6 L2098.5,529.6" fill="none" stroke="#996633" stroke-width="1.9" stroke-linejoin="round" clip-path="url(#c2l)"/>
<polygon points="1541.7,528.62 1548.2,540.7 1535.2,540.7" fill="#996633" stroke="#996633" stroke-width="0.78" stroke-linejoin="round"/>
<polygon points="1820.1,514.36 1826.6,526.44 1813.6,526.44" fill="#996633" stroke="#996633" stroke-width="0.78" stroke-linejoin="round"/>
<polygon points="1889.7,521.25 1896.2,533.34 1883.2,533.34" fill="#996633" stroke="#996633" stroke-width="0.78" stroke-linejoin="round"/>
<polygon points="1959.3,525.86 1965.8,537.94 1952.8,537.94" fill="#996633" stroke="#996633" stroke-width="0.78" stroke-linejoin="round"/>
<polygon points="2028.9,523.56 2035.4,535.64 2022.4,535.64" fill="#996633" stroke="#996633" stroke-width="0.78" stroke-linejoin="round"/>
<polygon points="2098.5,523.56 2105,535.64 2092,535.64" fill="#996633" stroke="#996633" stroke-width="0.78" stroke-linejoin="round"/>
<path d="M1541.7,525.69 L1889.7,523.85 L1959.3,526.15 L2028.9,526.15 L2098.5,524.31" fill="none" stroke="#000000" stroke-width="1.9" stroke-linejoin="round" clip-path="url(#c2u)"/>
<path d="M1541.7,525.69 L1889.7,523.85 L1959.3,526.15 L2028.9,526.15 L2098.5,524.31" fill="none" stroke="#000000" stroke-width="1.9" stroke-linejoin="round" clip-path="url(#c2l)"/>
<rect x="1534.95" y="518.94" width="13.5" height="13.5" rx="2.02" fill="#000000"/>
<rect x="1882.95" y="517.1" width="13.5" height="13.5" rx="2.02" fill="#000000"/>
<rect x="1952.55" y="519.4" width="13.5" height="13.5" rx="2.02" fill="#000000"/>
<rect x="2022.15" y="519.4" width="13.5" height="13.5" rx="2.02" fill="#000000"/>
<rect x="2091.75" y="517.56" width="13.5" height="13.5" rx="2.02" fill="#000000"/>
<path d="M1541.7,527.76 L1611.3,527.3 L1680.9,522.24 L1750.5,527.07 L1820.1,524.31 L1889.7,527.3 L1959.3,528.45 L2028.9,527.3 L2098.5,527.3" fill="none" stroke="#FF8000" stroke-width="1.9" stroke-linejoin="round" clip-path="url(#c2u)"/>
<path d="M1541.7,527.76 L1611.3,527.3 L1680.9,522.24 L1750.5,527.07 L1820.1,524.31 L1889.7,527.3 L1959.3,528.45 L2028.9,527.3 L2098.5,527.3" fill="none" stroke="#FF8000" stroke-width="1.9" stroke-linejoin="round" clip-path="url(#c2l)"/>
<circle cx="1541.7" cy="527.76" r="5.2" fill="#FF8000"/>
<circle cx="1611.3" cy="527.3" r="5.2" fill="#FF8000"/>
<circle cx="1680.9" cy="522.24" r="5.2" fill="#FF8000"/>
<circle cx="1750.5" cy="527.07" r="5.2" fill="#FF8000"/>
<circle cx="1820.1" cy="524.31" r="5.2" fill="#FF8000"/>
<circle cx="1889.7" cy="527.3" r="5.2" fill="#FF8000"/>
<circle cx="1959.3" cy="528.45" r="5.2" fill="#FF8000"/>
<circle cx="2028.9" cy="527.3" r="5.2" fill="#FF8000"/>
<circle cx="2098.5" cy="527.3" r="5.2" fill="#FF8000"/>
<path d="M1541.7,524.31 L1611.3,526.15 L1680.9,486.13 L1750.5,274.13 L1820.1,508.21 L1889.7,524.31 L1959.3,528.45 L2028.9,525 L2098.5,526.15" fill="none" stroke="#A300F0" stroke-width="1.9" stroke-linejoin="round" clip-path="url(#c2u)"/>
<path d="M1541.7,524.31 L1611.3,526.15 L1680.9,486.13 L1750.5,274.13 L1820.1,508.21 L1889.7,524.31 L1959.3,528.45 L2028.9,525 L2098.5,526.15" fill="none" stroke="#A300F0" stroke-width="1.9" stroke-linejoin="round" clip-path="url(#c2l)"/>
<polygon points="1541.7,518.81 1547.59,524.31 1541.7,529.81 1535.82,524.31" fill="#A300F0"/>
<polygon points="1611.3,520.65 1617.18,526.15 1611.3,531.65 1605.41,526.15" fill="#A300F0"/>
<polygon points="1680.9,480.63 1686.79,486.13 1680.9,491.63 1675.02,486.13" fill="#A300F0"/>
<polygon points="1750.5,268.63 1756.38,274.13 1750.5,279.63 1744.62,274.13" fill="#A300F0"/>
<polygon points="1820.1,502.71 1825.98,508.21 1820.1,513.71 1814.21,508.21" fill="#A300F0"/>
<polygon points="1889.7,518.81 1895.59,524.31 1889.7,529.81 1883.82,524.31" fill="#A300F0"/>
<polygon points="1959.3,522.95 1965.18,528.45 1959.3,533.95 1953.41,528.45" fill="#A300F0"/>
<polygon points="2028.9,519.5 2034.79,525 2028.9,530.5 2023.02,525" fill="#A300F0"/>
<polygon points="2098.5,520.65 2104.39,526.15 2098.5,531.65 2092.61,526.15" fill="#A300F0"/>
<path d="M1541.7,520.17 L1611.3,513.96 L1680.9,520.86 L1750.5,524.31 L1820.1,505.68 L1959.3,391.6 L2028.9,368.6 L2098.5,498.09" fill="none" stroke="#00C000" stroke-width="1.9" stroke-linejoin="round" clip-path="url(#c2u)"/>
<path d="M1541.7,520.17 L1611.3,513.96 L1680.9,520.86 L1750.5,524.31 L1820.1,505.68 L1959.3,391.6 L2028.9,368.6 L2098.5,498.09" fill="none" stroke="#00C000" stroke-width="1.9" stroke-linejoin="round" clip-path="url(#c2l)"/>
<polygon points="1541.7,524.96 1546.85,515.38 1536.55,515.38" fill="#00C000" stroke="#00C000" stroke-width="0.62" stroke-linejoin="round"/>
<polygon points="1611.3,518.75 1616.45,509.17 1606.15,509.17" fill="#00C000" stroke="#00C000" stroke-width="0.62" stroke-linejoin="round"/>
<polygon points="1680.9,525.65 1686.05,516.07 1675.75,516.07" fill="#00C000" stroke="#00C000" stroke-width="0.62" stroke-linejoin="round"/>
<polygon points="1750.5,529.1 1755.65,519.52 1745.35,519.52" fill="#00C000" stroke="#00C000" stroke-width="0.62" stroke-linejoin="round"/>
<polygon points="1820.1,510.47 1825.25,500.89 1814.95,500.89" fill="#00C000" stroke="#00C000" stroke-width="0.62" stroke-linejoin="round"/>
<polygon points="1959.3,396.39 1964.45,386.81 1954.15,386.81" fill="#00C000" stroke="#00C000" stroke-width="0.62" stroke-linejoin="round"/>
<polygon points="2028.9,373.39 2034.05,363.81 2023.75,363.81" fill="#00C000" stroke="#00C000" stroke-width="0.62" stroke-linejoin="round"/>
<polygon points="2098.5,502.88 2103.65,493.3 2093.35,493.3" fill="#00C000" stroke="#00C000" stroke-width="0.62" stroke-linejoin="round"/>
<path d="M1541.7,522.24 L1611.3,529.14 L1680.9,502.23 L1750.5,498.78 L1820.1,515.34 L1889.7,513.96 L1959.3,518.1 L2028.9,527.07 L2098.5,527.07" fill="none" stroke="#FF0000" stroke-width="1.9" stroke-linejoin="round" clip-path="url(#c2u)"/>
<path d="M1541.7,522.24 L1611.3,529.14 L1680.9,502.23 L1750.5,498.78 L1820.1,515.34 L1889.7,513.96 L1959.3,518.1 L2028.9,527.07 L2098.5,527.07" fill="none" stroke="#FF0000" stroke-width="1.9" stroke-linejoin="round" clip-path="url(#c2l)"/>
<polygon points="1541.7,517.36 1546.95,527.12 1536.45,527.12" fill="#FF0000" stroke="#FF0000" stroke-width="0.63" stroke-linejoin="round"/>
<polygon points="1611.3,524.26 1616.55,534.02 1606.05,534.02" fill="#FF0000" stroke="#FF0000" stroke-width="0.63" stroke-linejoin="round"/>
<polygon points="1680.9,497.35 1686.15,507.11 1675.65,507.11" fill="#FF0000" stroke="#FF0000" stroke-width="0.63" stroke-linejoin="round"/>
<polygon points="1750.5,493.9 1755.75,503.66 1745.25,503.66" fill="#FF0000" stroke="#FF0000" stroke-width="0.63" stroke-linejoin="round"/>
<polygon points="1820.1,510.46 1825.35,520.22 1814.85,520.22" fill="#FF0000" stroke="#FF0000" stroke-width="0.63" stroke-linejoin="round"/>
<polygon points="1889.7,509.08 1894.95,518.84 1884.45,518.84" fill="#FF0000" stroke="#FF0000" stroke-width="0.63" stroke-linejoin="round"/>
<polygon points="1959.3,513.22 1964.55,522.98 1954.05,522.98" fill="#FF0000" stroke="#FF0000" stroke-width="0.63" stroke-linejoin="round"/>
<polygon points="2028.9,522.19 2034.15,531.95 2023.65,531.95" fill="#FF0000" stroke="#FF0000" stroke-width="0.63" stroke-linejoin="round"/>
<polygon points="2098.5,522.19 2103.75,531.95 2093.25,531.95" fill="#FF0000" stroke="#FF0000" stroke-width="0.63" stroke-linejoin="round"/>
<path d="M1541.7,510.51 L1611.3,522.24 L1680.9,513.96 L1750.5,500.85 L1820.1,495.1 L1889.7,523.62 L1959.3,520.17 L2028.9,521.55 L2098.5,516.72" fill="none" stroke="#0000FF" stroke-width="1.9" stroke-linejoin="round" clip-path="url(#c2u)"/>
<path d="M1541.7,510.51 L1611.3,522.24 L1680.9,513.96 L1750.5,500.85 L1820.1,495.1 L1889.7,523.62 L1959.3,520.17 L2028.9,521.55 L2098.5,516.72" fill="none" stroke="#0000FF" stroke-width="1.9" stroke-linejoin="round" clip-path="url(#c2l)"/>
<rect x="1535.9" y="504.71" width="11.6" height="11.6" fill="#0000FF"/>
<rect x="1605.5" y="516.44" width="11.6" height="11.6" fill="#0000FF"/>
<rect x="1675.1" y="508.16" width="11.6" height="11.6" fill="#0000FF"/>
<rect x="1744.7" y="495.05" width="11.6" height="11.6" fill="#0000FF"/>
<rect x="1814.3" y="489.3" width="11.6" height="11.6" fill="#0000FF"/>
<rect x="1883.9" y="517.82" width="11.6" height="11.6" fill="#0000FF"/>
<rect x="1953.5" y="514.37" width="11.6" height="11.6" fill="#0000FF"/>
<rect x="2023.1" y="515.75" width="11.6" height="11.6" fill="#0000FF"/>
<rect x="2092.7" y="510.92" width="11.6" height="11.6" fill="#0000FF"/>
<line x1="744.6" y1="856.7" x2="744.6" y2="1058.05" stroke="#000" stroke-width="3.1" stroke-linecap="butt" />
<line x1="744.6" y1="752.95" x2="744.6" y2="832.7" stroke="#000" stroke-width="3.1" stroke-linecap="butt" />
<line x1="722.3" y1="1056.5" x2="1305" y2="1056.5" stroke="#000" stroke-width="3.1" stroke-linecap="butt" />
<line x1="777.1" y1="1056.5" x2="777.1" y2="1079.3" stroke="#000" stroke-width="3.1" stroke-linecap="butt" />
<line x1="842.9" y1="1056.5" x2="842.9" y2="1079.3" stroke="#000" stroke-width="3.1" stroke-linecap="butt" />
<line x1="908.7" y1="1056.5" x2="908.7" y2="1079.3" stroke="#000" stroke-width="3.1" stroke-linecap="butt" />
<line x1="974.5" y1="1056.5" x2="974.5" y2="1079.3" stroke="#000" stroke-width="3.1" stroke-linecap="butt" />
<line x1="1040.3" y1="1056.5" x2="1040.3" y2="1079.3" stroke="#000" stroke-width="3.1" stroke-linecap="butt" />
<line x1="1106.1" y1="1056.5" x2="1106.1" y2="1079.3" stroke="#000" stroke-width="3.1" stroke-linecap="butt" />
<line x1="1171.9" y1="1056.5" x2="1171.9" y2="1079.3" stroke="#000" stroke-width="3.1" stroke-linecap="butt" />
<line x1="1237.7" y1="1056.5" x2="1237.7" y2="1079.3" stroke="#000" stroke-width="3.1" stroke-linecap="butt" />
<line x1="1303.5" y1="1056.5" x2="1303.5" y2="1079.3" stroke="#000" stroke-width="3.1" stroke-linecap="butt" />
<line x1="708.6" y1="754.7" x2="744.6" y2="754.7" stroke="#000" stroke-width="3.1" stroke-linecap="butt" />
<text x="704.5" y="762.5" font-size="25" font-weight="bold" text-anchor="end" fill="#000" >700</text>
<line x1="708.6" y1="793.75" x2="744.6" y2="793.75" stroke="#000" stroke-width="3.1" stroke-linecap="butt" />
<text x="704.5" y="801.55" font-size="25" font-weight="bold" text-anchor="end" fill="#000" >600</text>
<text x="704.5" y="840.6" font-size="25" font-weight="bold" text-anchor="end" fill="#000" >500</text>
<text x="718.2" y="864" font-size="25" font-weight="bold" text-anchor="end" fill="#000" >100</text>
<line x1="722.3" y1="896.26" x2="744.6" y2="896.26" stroke="#000" stroke-width="3.1" stroke-linecap="butt" />
<text x="718.2" y="904.06" font-size="25" font-weight="bold" text-anchor="end" fill="#000" >80</text>
<line x1="722.3" y1="936.32" x2="744.6" y2="936.32" stroke="#000" stroke-width="3.1" stroke-linecap="butt" />
<text x="718.2" y="944.12" font-size="25" font-weight="bold" text-anchor="end" fill="#000" >60</text>
<line x1="722.3" y1="976.38" x2="744.6" y2="976.38" stroke="#000" stroke-width="3.1" stroke-linecap="butt" />
<text x="718.2" y="984.18" font-size="25" font-weight="bold" text-anchor="end" fill="#000" >40</text>
<line x1="722.3" y1="1016.44" x2="744.6" y2="1016.44" stroke="#000" stroke-width="3.1" stroke-linecap="butt" />
<text x="718.2" y="1024.24" font-size="25" font-weight="bold" text-anchor="end" fill="#000" >20</text>
<line x1="722.3" y1="1056.5" x2="744.6" y2="1056.5" stroke="#000" stroke-width="3.1" stroke-linecap="butt" />
<text x="718.2" y="1064.3" font-size="25" font-weight="bold" text-anchor="end" fill="#000" >0</text>
<line x1="729.6" y1="832.7" x2="759.7" y2="832.7" stroke="#000" stroke-width="3.1" stroke-linecap="butt" />
<line x1="729.6" y1="856.7" x2="759.7" y2="856.7" stroke="#000" stroke-width="3.1" stroke-linecap="butt" />
<text x="0" y="0" font-size="28.8" font-weight="bold" text-anchor="middle" fill="#000" transform="translate(642.8,899.8) rotate(-90)" >TNF-α (pg/ml of plasma)</text>
<text x="0" y="0" font-size="25" font-weight="bold" text-anchor="end" fill="#000" transform="translate(788.8,1093.5) rotate(-45)" >Baseline</text>
<text x="0" y="0" font-size="25" font-weight="bold" text-anchor="end" fill="#000" transform="translate(854.6,1093.5) rotate(-45)" >Day 0</text>
<text x="0" y="0" font-size="25" font-weight="bold" text-anchor="end" fill="#000" transform="translate(920.4,1093.5) rotate(-45)" >Day 5</text>
<text x="0" y="0" font-size="25" font-weight="bold" text-anchor="end" fill="#000" transform="translate(986.2,1093.5) rotate(-45)" >Day 7</text>
<text x="0" y="0" font-size="25" font-weight="bold" text-anchor="end" fill="#000" transform="translate(1052,1093.5) rotate(-45)" >Day 9-12</text>
<text x="0" y="0" font-size="25" font-weight="bold" text-anchor="end" fill="#000" transform="translate(1117.8,1093.5) rotate(-45)" >Day 14</text>
<text x="0" y="0" font-size="25" font-weight="bold" text-anchor="end" fill="#000" transform="translate(1183.6,1093.5) rotate(-45)" >Week 3</text>
<text x="0" y="0" font-size="25" font-weight="bold" text-anchor="end" fill="#000" transform="translate(1249.4,1093.5) rotate(-45)" >Week 4</text>
<text x="0" y="0" font-size="25" font-weight="bold" text-anchor="end" fill="#000" transform="translate(1315.2,1093.5) rotate(-45)" >Week 6</text>
<clipPath id="c3u"><rect x="0" y="0" width="2166" height="832.5"/></clipPath>
<clipPath id="c3l"><rect x="0" y="856.5" width="2166" height="309.5"/></clipPath>
<path d="M777.1,1027.06 L1106.1,1028.46 L1171.9,1037.27 L1237.7,1037.27" fill="none" stroke="#000080" stroke-width="1.9" stroke-linejoin="round" clip-path="url(#c3u)"/>
<path d="M777.1,1027.06 L1106.1,1028.46 L1171.9,1037.27 L1237.7,1037.27" fill="none" stroke="#000080" stroke-width="1.9" stroke-linejoin="round" clip-path="url(#c3l)"/>
<polygon points="777.1,1033.1 783.6,1021.01 770.6,1021.01" fill="#000080" stroke="#000080" stroke-width="0.78" stroke-linejoin="round"/>
<polygon points="1106.1,1034.5 1112.6,1022.41 1099.6,1022.41" fill="#000080" stroke="#000080" stroke-width="0.78" stroke-linejoin="round"/>
<polygon points="1171.9,1043.32 1178.4,1031.23 1165.4,1031.23" fill="#000080" stroke="#000080" stroke-width="0.78" stroke-linejoin="round"/>
<polygon points="1237.7,1043.32 1244.2,1031.23 1231.2,1031.23" fill="#000080" stroke="#000080" stroke-width="0.78" stroke-linejoin="round"/>
<path d="M777.1,975.38 L1040.3,963.16 L1106.1,975.58 L1171.9,980.59 L1237.7,984.59 L1303.5,991.8" fill="none" stroke="#996633" stroke-width="1.9" stroke-linejoin="round" clip-path="url(#c3u)"/>
<path d="M777.1,975.38 L1040.3,963.16 L1106.1,975.58 L1171.9,980.59 L1237.7,984.59 L1303.5,991.8" fill="none" stroke="#996633" stroke-width="1.9" stroke-linejoin="round" clip-path="url(#c3l)"/>
<polygon points="777.1,969.33 783.6,981.42 770.6,981.42" fill="#996633" stroke="#996633" stroke-width="0.78" stroke-linejoin="round"/>
<polygon points="1040.3,957.12 1046.8,969.21 1033.8,969.21" fill="#996633" stroke="#996633" stroke-width="0.78" stroke-linejoin="round"/>
<polygon points="1106.1,969.53 1112.6,981.62 1099.6,981.62" fill="#996633" stroke="#996633" stroke-width="0.78" stroke-linejoin="round"/>
<polygon points="1171.9,974.54 1178.4,986.63 1165.4,986.63" fill="#996633" stroke="#996633" stroke-width="0.78" stroke-linejoin="round"/>
<polygon points="1237.7,978.55 1244.2,990.64 1231.2,990.64" fill="#996633" stroke="#996633" stroke-width="0.78" stroke-linejoin="round"/>
<polygon points="1303.5,985.76 1310,997.85 1297,997.85" fill="#996633" stroke="#996633" stroke-width="0.78" stroke-linejoin="round"/>
<path d="M777.1,981.59 L1106.1,1009.43 L1171.9,1002.42 L1237.7,1007.43 L1303.5,1008.03" fill="none" stroke="#000000" stroke-width="1.9" stroke-linejoin="round" clip-path="url(#c3u)"/>
<path d="M777.1,981.59 L1106.1,1009.43 L1171.9,1002.42 L1237.7,1007.43 L1303.5,1008.03" fill="none" stroke="#000000" stroke-width="1.9" stroke-linejoin="round" clip-path="url(#c3l)"/>
<rect x="770.35" y="974.84" width="13.5" height="13.5" rx="2.02" fill="#000000"/>
<rect x="1099.35" y="1002.68" width="13.5" height="13.5" rx="2.02" fill="#000000"/>
<rect x="1165.15" y="995.67" width="13.5" height="13.5" rx="2.02" fill="#000000"/>
<rect x="1230.95" y="1000.68" width="13.5" height="13.5" rx="2.02" fill="#000000"/>
<rect x="1296.75" y="1001.28" width="13.5" height="13.5" rx="2.02" fill="#000000"/>
<path d="M777.1,1021.85 L842.9,1035.07 L908.7,1020.25 L974.5,1030.46 L1040.3,1038.27 L1106.1,1039.88 L1237.7,1023.85 L1303.5,1026.45" fill="none" stroke="#FF8000" stroke-width="1.9" stroke-linejoin="round" clip-path="url(#c3u)"/>
<path d="M777.1,1021.85 L842.9,1035.07 L908.7,1020.25 L974.5,1030.46 L1040.3,1038.27 L1106.1,1039.88 L1237.7,1023.85 L1303.5,1026.45" fill="none" stroke="#FF8000" stroke-width="1.9" stroke-linejoin="round" clip-path="url(#c3l)"/>
<circle cx="777.1" cy="1021.85" r="5.2" fill="#FF8000"/>
<circle cx="842.9" cy="1035.07" r="5.2" fill="#FF8000"/>
<circle cx="908.7" cy="1020.25" r="5.2" fill="#FF8000"/>
<circle cx="974.5" cy="1030.46" r="5.2" fill="#FF8000"/>
<circle cx="1040.3" cy="1038.27" r="5.2" fill="#FF8000"/>
<circle cx="1106.1" cy="1039.88" r="5.2" fill="#FF8000"/>
<circle cx="1237.7" cy="1023.85" r="5.2" fill="#FF8000"/>
<circle cx="1303.5" cy="1026.45" r="5.2" fill="#FF8000"/>
<path d="M777.1,1003.42 L842.9,1024.05 L908.7,1021.05 L974.5,795.82 L1040.3,918.29 L1106.1,1025.85 L1171.9,1030.26 L1237.7,1027.06 L1303.5,1031.06" fill="none" stroke="#A300F0" stroke-width="1.9" stroke-linejoin="round" clip-path="url(#c3u)"/>
<path d="M777.1,1003.42 L842.9,1024.05 L908.7,1021.05 L974.5,795.82 L1040.3,918.29 L1106.1,1025.85 L1171.9,1030.26 L1237.7,1027.06 L1303.5,1031.06" fill="none" stroke="#A300F0" stroke-width="1.9" stroke-linejoin="round" clip-path="url(#c3l)"/>
<polygon points="777.1,997.92 782.99,1003.42 777.1,1008.92 771.22,1003.42" fill="#A300F0"/>
<polygon points="842.9,1018.55 848.78,1024.05 842.9,1029.55 837.01,1024.05" fill="#A300F0"/>
<polygon points="908.7,1015.55 914.59,1021.05 908.7,1026.55 902.82,1021.05" fill="#A300F0"/>
<polygon points="974.5,790.32 980.38,795.82 974.5,801.32 968.62,795.82" fill="#A300F0"/>
<polygon points="1040.3,912.79 1046.18,918.29 1040.3,923.79 1034.41,918.29" fill="#A300F0"/>
<polygon points="1106.1,1020.35 1111.98,1025.85 1106.1,1031.35 1100.21,1025.85" fill="#A300F0"/>
<polygon points="1171.9,1024.76 1177.79,1030.26 1171.9,1035.76 1166.02,1030.26" fill="#A300F0"/>
<polygon points="1237.7,1021.56 1243.59,1027.06 1237.7,1032.56 1231.82,1027.06" fill="#A300F0"/>
<polygon points="1303.5,1025.56 1309.38,1031.06 1303.5,1036.56 1297.62,1031.06" fill="#A300F0"/>
<path d="M777.1,1004.82 L842.9,1011.63 L974.5,991 L1040.3,998.61 L1106.1,995.01 L1171.9,983.79 L1237.7,979.38 L1303.5,984.59" fill="none" stroke="#00C000" stroke-width="1.9" stroke-linejoin="round" clip-path="url(#c3u)"/>
<path d="M777.1,1004.82 L842.9,1011.63 L974.5,991 L1040.3,998.61 L1106.1,995.01 L1171.9,983.79 L1237.7,979.38 L1303.5,984.59" fill="none" stroke="#00C000" stroke-width="1.9" stroke-linejoin="round" clip-path="url(#c3l)"/>
<polygon points="777.1,1009.61 782.25,1000.03 771.95,1000.03" fill="#00C000" stroke="#00C000" stroke-width="0.62" stroke-linejoin="round"/>
<polygon points="842.9,1016.42 848.05,1006.84 837.75,1006.84" fill="#00C000" stroke="#00C000" stroke-width="0.62" stroke-linejoin="round"/>
<polygon points="974.5,995.79 979.65,986.21 969.35,986.21" fill="#00C000" stroke="#00C000" stroke-width="0.62" stroke-linejoin="round"/>
<polygon points="1040.3,1003.4 1045.45,993.82 1035.15,993.82" fill="#00C000" stroke="#00C000" stroke-width="0.62" stroke-linejoin="round"/>
<polygon points="1106.1,999.8 1111.25,990.22 1100.95,990.22" fill="#00C000" stroke="#00C000" stroke-width="0.62" stroke-linejoin="round"/>
<polygon points="1171.9,988.58 1177.05,979 1166.75,979" fill="#00C000" stroke="#00C000" stroke-width="0.62" stroke-linejoin="round"/>
<polygon points="1237.7,984.17 1242.85,974.6 1232.55,974.6" fill="#00C000" stroke="#00C000" stroke-width="0.62" stroke-linejoin="round"/>
<polygon points="1303.5,989.38 1308.65,979.8 1298.35,979.8" fill="#00C000" stroke="#00C000" stroke-width="0.62" stroke-linejoin="round"/>
<path d="M777.1,986.39 L842.9,1025.05 L908.7,994.01 L974.5,1010.43 L1040.3,1009.43 L1106.1,1007.43 L1171.9,994.01 L1237.7,1003.42 L1303.5,1003.42" fill="none" stroke="#FF0000" stroke-width="1.9" stroke-linejoin="round" clip-path="url(#c3u)"/>
<path d="M777.1,986.39 L842.9,1025.05 L908.7,994.01 L974.5,1010.43 L1040.3,1009.43 L1106.1,1007.43 L1171.9,994.01 L1237.7,1003.42 L1303.5,1003.42" fill="none" stroke="#FF0000" stroke-width="1.9" stroke-linejoin="round" clip-path="url(#c3l)"/>
<polygon points="777.1,981.51 782.35,991.28 771.85,991.28" fill="#FF0000" stroke="#FF0000" stroke-width="0.63" stroke-linejoin="round"/>
<polygon points="842.9,1020.17 848.15,1029.94 837.65,1029.94" fill="#FF0000" stroke="#FF0000" stroke-width="0.63" stroke-linejoin="round"/>
<polygon points="908.7,989.12 913.95,998.89 903.45,998.89" fill="#FF0000" stroke="#FF0000" stroke-width="0.63" stroke-linejoin="round"/>
<polygon points="974.5,1005.55 979.75,1015.31 969.25,1015.31" fill="#FF0000" stroke="#FF0000" stroke-width="0.63" stroke-linejoin="round"/>
<polygon points="1040.3,1004.55 1045.55,1014.31 1035.05,1014.31" fill="#FF0000" stroke="#FF0000" stroke-width="0.63" stroke-linejoin="round"/>
<polygon points="1106.1,1002.54 1111.35,1012.31 1100.85,1012.31" fill="#FF0000" stroke="#FF0000" stroke-width="0.63" stroke-linejoin="round"/>
<polygon points="1171.9,989.12 1177.15,998.89 1166.65,998.89" fill="#FF0000" stroke="#FF0000" stroke-width="0.63" stroke-linejoin="round"/>
<polygon points="1237.7,998.54 1242.95,1008.3 1232.45,1008.3" fill="#FF0000" stroke="#FF0000" stroke-width="0.63" stroke-linejoin="round"/>
<polygon points="1303.5,998.54 1308.75,1008.3 1298.25,1008.3" fill="#FF0000" stroke="#FF0000" stroke-width="0.63" stroke-linejoin="round"/>
<path d="M777.1,966.16 L842.9,979.99 L908.7,941.33 L974.5,929.11 L1040.3,983.79 L1106.1,998.01 L1171.9,1011.63 L1237.7,1020.25 L1303.5,1022.65" fill="none" stroke="#0000FF" stroke-width="1.9" stroke-linejoin="round" clip-path="url(#c3u)"/>
<path d="M777.1,966.16 L842.9,979.99 L908.7,941.33 L974.5,929.11 L1040.3,983.79 L1106.1,998.01 L1171.9,1011.63 L1237.7,1020.25 L1303.5,1022.65" fill="none" stroke="#0000FF" stroke-width="1.9" stroke-linejoin="round" clip-path="url(#c3l)"/>
<rect x="771.3" y="960.36" width="11.6" height="11.6" fill="#0000FF"/>
<rect x="837.1" y="974.19" width="11.6" height="11.6" fill="#0000FF"/>
<rect x="902.9" y="935.53" width="11.6" height="11.6" fill="#0000FF"/>
<rect x="968.7" y="923.31" width="11.6" height="11.6" fill="#0000FF"/>
<rect x="1034.5" y="977.99" width="11.6" height="11.6" fill="#0000FF"/>
<rect x="1100.3" y="992.21" width="11.6" height="11.6" fill="#0000FF"/>
<rect x="1166.1" y="1005.83" width="11.6" height="11.6" fill="#0000FF"/>
<rect x="1231.9" y="1014.45" width="11.6" height="11.6" fill="#0000FF"/>
<rect x="1297.7" y="1016.85" width="11.6" height="11.6" fill="#0000FF"/>
<line x1="1511" y1="844.4" x2="1511" y2="1051.95" stroke="#000" stroke-width="3.1" stroke-linecap="butt" />
<line x1="1511" y1="735.45" x2="1511" y2="819.7" stroke="#000" stroke-width="3.1" stroke-linecap="butt" />
<line x1="1487.4" y1="1050.4" x2="2091" y2="1050.4" stroke="#000" stroke-width="3.1" stroke-linecap="butt" />
<line x1="1544.2" y1="1050.4" x2="1544.2" y2="1074.4" stroke="#000" stroke-width="3.1" stroke-linecap="butt" />
<line x1="1612.1" y1="1050.4" x2="1612.1" y2="1074.4" stroke="#000" stroke-width="3.1" stroke-linecap="butt" />
<line x1="1680" y1="1050.4" x2="1680" y2="1074.4" stroke="#000" stroke-width="3.1" stroke-linecap="butt" />
<line x1="1747.9" y1="1050.4" x2="1747.9" y2="1074.4" stroke="#000" stroke-width="3.1" stroke-linecap="butt" />
<line x1="1815.8" y1="1050.4" x2="1815.8" y2="1074.4" stroke="#000" stroke-width="3.1" stroke-linecap="butt" />
<line x1="1883.7" y1="1050.4" x2="1883.7" y2="1074.4" stroke="#000" stroke-width="3.1" stroke-linecap="butt" />
<line x1="1951.6" y1="1050.4" x2="1951.6" y2="1074.4" stroke="#000" stroke-width="3.1" stroke-linecap="butt" />
<line x1="2019.5" y1="1050.4" x2="2019.5" y2="1074.4" stroke="#000" stroke-width="3.1" stroke-linecap="butt" />
<line x1="2087.4" y1="1050.4" x2="2087.4" y2="1074.4" stroke="#000" stroke-width="3.1" stroke-linecap="butt" />
<line x1="1474.5" y1="737.35" x2="1511" y2="737.35" stroke="#000" stroke-width="3.1" stroke-linecap="butt" />
<text x="1476" y="745.15" font-size="25" font-weight="bold" text-anchor="end" fill="#000" >6000</text>
<line x1="1474.5" y1="792.25" x2="1511" y2="792.25" stroke="#000" stroke-width="3.1" stroke-linecap="butt" />
<text x="1476" y="800.05" font-size="25" font-weight="bold" text-anchor="end" fill="#000" >4000</text>
<text x="1483.6" y="852.19" font-size="25" font-weight="bold" text-anchor="end" fill="#000" >300</text>
<line x1="1487.4" y1="878.73" x2="1511" y2="878.73" stroke="#000" stroke-width="3.1" stroke-linecap="butt" />
<text x="1483.6" y="886.53" font-size="25" font-weight="bold" text-anchor="end" fill="#000" >250</text>
<line x1="1487.4" y1="913.06" x2="1511" y2="913.06" stroke="#000" stroke-width="3.1" stroke-linecap="butt" />
<text x="1483.6" y="920.86" font-size="25" font-weight="bold" text-anchor="end" fill="#000" >200</text>
<line x1="1487.4" y1="947.4" x2="1511" y2="947.4" stroke="#000" stroke-width="3.1" stroke-linecap="butt" />
<text x="1483.6" y="955.2" font-size="25" font-weight="bold" text-anchor="end" fill="#000" >150</text>
<line x1="1487.4" y1="981.73" x2="1511" y2="981.73" stroke="#000" stroke-width="3.1" stroke-linecap="butt" />
<text x="1483.6" y="989.53" font-size="25" font-weight="bold" text-anchor="end" fill="#000" >100</text>
<line x1="1487.4" y1="1016.07" x2="1511" y2="1016.07" stroke="#000" stroke-width="3.1" stroke-linecap="butt" />
<text x="1483.6" y="1023.87" font-size="25" font-weight="bold" text-anchor="end" fill="#000" >50</text>
<line x1="1487.4" y1="1050.4" x2="1511" y2="1050.4" stroke="#000" stroke-width="3.1" stroke-linecap="butt" />
<text x="1483.6" y="1058.2" font-size="25" font-weight="bold" text-anchor="end" fill="#000" >0</text>
<line x1="1495" y1="819.7" x2="1527.2" y2="819.7" stroke="#000" stroke-width="3.1" stroke-linecap="butt" />
<line x1="1495" y1="844.4" x2="1527.2" y2="844.4" stroke="#000" stroke-width="3.1" stroke-linecap="butt" />
<text x="0" y="0" font-size="28.7" font-weight="bold" text-anchor="middle" fill="#000" transform="translate(1399.3,897.3) rotate(-90)" >IL-10 (pg/ml of plasma)</text>
<text x="0" y="0" font-size="25" font-weight="bold" text-anchor="end" fill="#000" transform="translate(1559.9,1091.4) rotate(-45)" >Baseline</text>
<text x="0" y="0" font-size="25" font-weight="bold" text-anchor="end" fill="#000" transform="translate(1627.8,1091.4) rotate(-45)" >Day 0</text>
<text x="0" y="0" font-size="25" font-weight="bold" text-anchor="end" fill="#000" transform="translate(1695.7,1091.4) rotate(-45)" >Day 5</text>
<text x="0" y="0" font-size="25" font-weight="bold" text-anchor="end" fill="#000" transform="translate(1763.6,1091.4) rotate(-45)" >Day 7</text>
<text x="0" y="0" font-size="25" font-weight="bold" text-anchor="end" fill="#000" transform="translate(1831.5,1091.4) rotate(-45)" >Day 9-12</text>
<text x="0" y="0" font-size="25" font-weight="bold" text-anchor="end" fill="#000" transform="translate(1899.4,1091.4) rotate(-45)" >Day 14</text>
<text x="0" y="0" font-size="25" font-weight="bold" text-anchor="end" fill="#000" transform="translate(1967.3,1091.4) rotate(-45)" >Week 3</text>
<text x="0" y="0" font-size="25" font-weight="bold" text-anchor="end" fill="#000" transform="translate(2035.2,1091.4) rotate(-45)" >Week 4</text>
<text x="0" y="0" font-size="25" font-weight="bold" text-anchor="end" fill="#000" transform="translate(2103.1,1091.4) rotate(-45)" >Week 6</text>
<clipPath id="c4u"><rect x="0" y="0" width="2166" height="819.7"/></clipPath>
<clipPath id="c4l"><rect x="0" y="844.4" width="2166" height="321.6"/></clipPath>
<path d="M1544.2,1044.91 L1612.1,1045.73 L1680,1023.21 L1747.9,1020.19 L1815.8,1041.68 L1883.7,1045.73 L1951.6,1041.13 L2019.5,1034.33 L2087.4,1044.91" fill="none" stroke="#FF8000" stroke-width="1.9" stroke-linejoin="round" clip-path="url(#c4u)"/>
<path d="M1544.2,1044.91 L1612.1,1045.73 L1680,1023.21 L1747.9,1020.19 L1815.8,1041.68 L1883.7,1045.73 L1951.6,1041.13 L2019.5,1034.33 L2087.4,1044.91" fill="none" stroke="#FF8000" stroke-width="1.9" stroke-linejoin="round" clip-path="url(#c4l)"/>
<circle cx="1544.2" cy="1044.91" r="5.2" fill="#FF8000"/>
<circle cx="1612.1" cy="1045.73" r="5.2" fill="#FF8000"/>
<circle cx="1680" cy="1023.21" r="5.2" fill="#FF8000"/>
<circle cx="1747.9" cy="1020.19" r="5.2" fill="#FF8000"/>
<circle cx="1815.8" cy="1041.68" r="5.2" fill="#FF8000"/>
<circle cx="1883.7" cy="1045.73" r="5.2" fill="#FF8000"/>
<circle cx="1951.6" cy="1041.13" r="5.2" fill="#FF8000"/>
<circle cx="2019.5" cy="1034.33" r="5.2" fill="#FF8000"/>
<circle cx="2087.4" cy="1044.91" r="5.2" fill="#FF8000"/>
<path d="M1544.2,1046.69 L1612.1,1047.31 L1680,1036.53 L1747.9,769.41 L1815.8,974.86 L1883.7,1039.62 L1951.6,1042.85 L2019.5,1044.91 L2087.4,1045.73" fill="none" stroke="#A300F0" stroke-width="1.9" stroke-linejoin="round" clip-path="url(#c4u)"/>
<path d="M1544.2,1046.69 L1612.1,1047.31 L1680,1036.53 L1747.9,769.41 L1815.8,974.86 L1883.7,1039.62 L1951.6,1042.85 L2019.5,1044.91 L2087.4,1045.73" fill="none" stroke="#A300F0" stroke-width="1.9" stroke-linejoin="round" clip-path="url(#c4l)"/>
<polygon points="1544.2,1041.19 1550.09,1046.69 1544.2,1052.19 1538.32,1046.69" fill="#A300F0"/>
<polygon points="1612.1,1041.81 1617.99,1047.31 1612.1,1052.81 1606.22,1047.31" fill="#A300F0"/>
<polygon points="1680,1031.03 1685.88,1036.53 1680,1042.03 1674.12,1036.53" fill="#A300F0"/>
<polygon points="1747.9,763.91 1753.79,769.41 1747.9,774.91 1742.02,769.41" fill="#A300F0"/>
<polygon points="1815.8,969.36 1821.69,974.86 1815.8,980.36 1809.92,974.86" fill="#A300F0"/>
<polygon points="1883.7,1034.12 1889.59,1039.62 1883.7,1045.12 1877.82,1039.62" fill="#A300F0"/>
<polygon points="1951.6,1037.35 1957.49,1042.85 1951.6,1048.35 1945.72,1042.85" fill="#A300F0"/>
<polygon points="2019.5,1039.41 2025.38,1044.91 2019.5,1050.41 2013.62,1044.91" fill="#A300F0"/>
<polygon points="2087.4,1040.23 2093.29,1045.73 2087.4,1051.23 2081.51,1045.73" fill="#A300F0"/>
<path d="M1544.2,1007.14 L1612.1,1027.19 L1680,1030.28 L1747.9,1033.37 L1815.8,1036.53 L1883.7,1035.02 L1951.6,1031.17 L2019.5,1030.28 L2087.4,1028.77" fill="none" stroke="#00C000" stroke-width="1.9" stroke-linejoin="round" clip-path="url(#c4u)"/>
<path d="M1544.2,1007.14 L1612.1,1027.19 L1680,1030.28 L1747.9,1033.37 L1815.8,1036.53 L1883.7,1035.02 L1951.6,1031.17 L2019.5,1030.28 L2087.4,1028.77" fill="none" stroke="#00C000" stroke-width="1.9" stroke-linejoin="round" clip-path="url(#c4l)"/>
<polygon points="1544.2,1011.93 1549.35,1002.35 1539.05,1002.35" fill="#00C000" stroke="#00C000" stroke-width="0.62" stroke-linejoin="round"/>
<polygon points="1612.1,1031.98 1617.25,1022.4 1606.95,1022.4" fill="#00C000" stroke="#00C000" stroke-width="0.62" stroke-linejoin="round"/>
<polygon points="1680,1035.07 1685.15,1025.49 1674.85,1025.49" fill="#00C000" stroke="#00C000" stroke-width="0.62" stroke-linejoin="round"/>
<polygon points="1747.9,1038.16 1753.05,1028.58 1742.75,1028.58" fill="#00C000" stroke="#00C000" stroke-width="0.62" stroke-linejoin="round"/>
<polygon points="1815.8,1041.32 1820.95,1031.74 1810.65,1031.74" fill="#00C000" stroke="#00C000" stroke-width="0.62" stroke-linejoin="round"/>
<polygon points="1883.7,1039.81 1888.85,1030.23 1878.55,1030.23" fill="#00C000" stroke="#00C000" stroke-width="0.62" stroke-linejoin="round"/>
<polygon points="1951.6,1035.96 1956.75,1026.38 1946.45,1026.38" fill="#00C000" stroke="#00C000" stroke-width="0.62" stroke-linejoin="round"/>
<polygon points="2019.5,1035.07 2024.65,1025.49 2014.35,1025.49" fill="#00C000" stroke="#00C000" stroke-width="0.62" stroke-linejoin="round"/>
<polygon points="2087.4,1033.56 2092.55,1023.98 2082.25,1023.98" fill="#00C000" stroke="#00C000" stroke-width="0.62" stroke-linejoin="round"/>
<path d="M1544.2,1045.73 L1612.1,1046.69 L1680,1012.63 L1747.9,1022.31 L1815.8,1038.04 L1883.7,1041.13 L1951.6,1041.47 L2019.5,1044.22 L2087.4,1046.69" fill="none" stroke="#FF0000" stroke-width="1.9" stroke-linejoin="round" clip-path="url(#c4u)"/>
<path d="M1544.2,1045.73 L1612.1,1046.69 L1680,1012.63 L1747.9,1022.31 L1815.8,1038.04 L1883.7,1041.13 L1951.6,1041.47 L2019.5,1044.22 L2087.4,1046.69" fill="none" stroke="#FF0000" stroke-width="1.9" stroke-linejoin="round" clip-path="url(#c4l)"/>
<polygon points="1544.2,1040.85 1549.45,1050.61 1538.95,1050.61" fill="#FF0000" stroke="#FF0000" stroke-width="0.63" stroke-linejoin="round"/>
<polygon points="1612.1,1041.81 1617.35,1051.57 1606.85,1051.57" fill="#FF0000" stroke="#FF0000" stroke-width="0.63" stroke-linejoin="round"/>
<polygon points="1680,1007.75 1685.25,1017.51 1674.75,1017.51" fill="#FF0000" stroke="#FF0000" stroke-width="0.63" stroke-linejoin="round"/>
<polygon points="1747.9,1017.43 1753.15,1027.2 1742.65,1027.2" fill="#FF0000" stroke="#FF0000" stroke-width="0.63" stroke-linejoin="round"/>
<polygon points="1815.8,1033.16 1821.05,1042.92 1810.55,1042.92" fill="#FF0000" stroke="#FF0000" stroke-width="0.63" stroke-linejoin="round"/>
<polygon points="1883.7,1036.25 1888.95,1046.01 1878.45,1046.01" fill="#FF0000" stroke="#FF0000" stroke-width="0.63" stroke-linejoin="round"/>
<polygon points="1951.6,1036.59 1956.85,1046.36 1946.35,1046.36" fill="#FF0000" stroke="#FF0000" stroke-width="0.63" stroke-linejoin="round"/>
<polygon points="2019.5,1039.34 2024.75,1049.1 2014.25,1049.1" fill="#FF0000" stroke="#FF0000" stroke-width="0.63" stroke-linejoin="round"/>
<polygon points="2087.4,1041.81 2092.65,1051.57 2082.15,1051.57" fill="#FF0000" stroke="#FF0000" stroke-width="0.63" stroke-linejoin="round"/>
<path d="M1544.2,1038.52 L1612.1,1039.62 L1680,1024.1 L1747.9,914.71 L1815.8,1032.55 L1883.7,1044.77 L1951.6,1044.77 L2019.5,1044.77 L2087.4,1036.53" fill="none" stroke="#0000FF" stroke-width="1.9" stroke-linejoin="round" clip-path="url(#c4u)"/>
<path d="M1544.2,1038.52 L1612.1,1039.62 L1680,1024.1 L1747.9,914.71 L1815.8,1032.55 L1883.7,1044.77 L1951.6,1044.77 L2019.5,1044.77 L2087.4,1036.53" fill="none" stroke="#0000FF" stroke-width="1.9" stroke-linejoin="round" clip-path="url(#c4l)"/>
<rect x="1538.4" y="1032.72" width="11.6" height="11.6" fill="#0000FF"/>
<rect x="1606.3" y="1033.82" width="11.6" height="11.6" fill="#0000FF"/>
<rect x="1674.2" y="1018.3" width="11.6" height="11.6" fill="#0000FF"/>
<rect x="1742.1" y="908.91" width="11.6" height="11.6" fill="#0000FF"/>
<rect x="1810" y="1026.75" width="11.6" height="11.6" fill="#0000FF"/>
<rect x="1877.9" y="1038.97" width="11.6" height="11.6" fill="#0000FF"/>
<rect x="1945.8" y="1038.97" width="11.6" height="11.6" fill="#0000FF"/>
<rect x="2013.7" y="1038.97" width="11.6" height="11.6" fill="#0000FF"/>
<rect x="2081.6" y="1030.73" width="11.6" height="11.6" fill="#0000FF"/>
</svg>
</body></html>
